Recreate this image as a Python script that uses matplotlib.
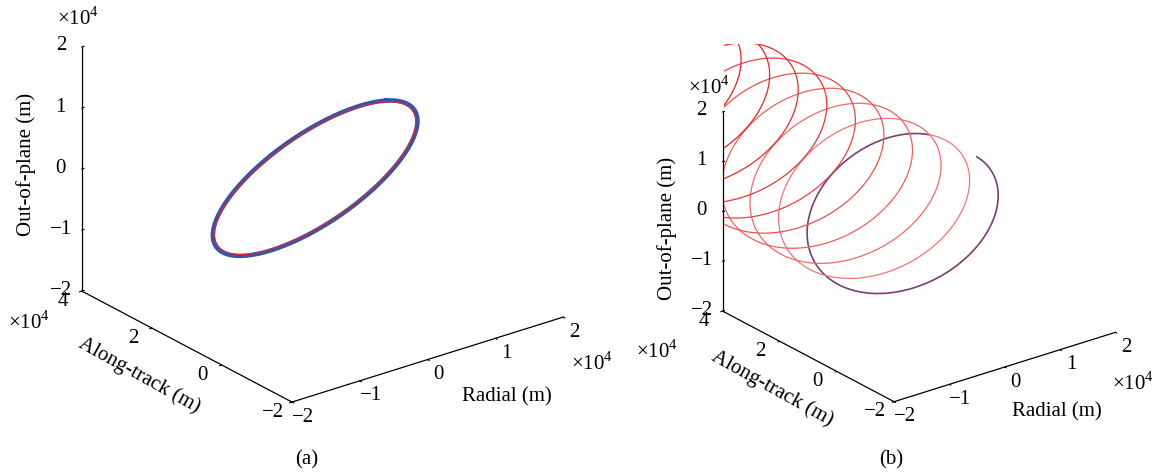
import numpy as np
import matplotlib
matplotlib.use('Agg')
import matplotlib.pyplot as plt
from matplotlib.transforms import Bbox, TransformedBbox, offset_copy

plt.rcParams['font.family'] = ['Liberation Serif', 'DejaVu Serif']
plt.rcParams['font.size'] = 15
plt.rcParams['mathtext.fontset'] = 'custom'
plt.rcParams['mathtext.rm'] = 'Liberation Serif'

# axes limits and ticks (m)
radial_lim = [-2e4, 2e4]
along_lim = [-2e4, 4e4]
out_lim = [-2e4, 2e4]
radial_ticks = [-2e4, -1e4, 0, 1e4, 2e4]
along_ticks = [-2e4, 0, 2e4, 4e4]
out_ticks = [-2e4, -1e4, 0, 1e4, 2e4]

# (a) closed relative orbit: thick blue band + red reference just inside it
a_radial_amp = [1.05e4, 1.032e4]
a_along_center = [1.21e4, 1.21e4]
a_out_amp = [1.15e4, 1.13e4]
a_out_phase = [-38.0, -38.0]          # deg
a_colors = ['#3653a8', '#e3242b']
a_widths = [3.2, 0.8]

# (b) drifting relative orbit, one colour per revolution
b_radial_amp = 1.11e4
b_along_center = 1.2e4
b_along_drift = 1.0e4                 # per revolution
b_out_amp = 0.98e4
b_out_center = -0.09e4
b_out_phase = 1.0                     # deg
b_start = 2.0                         # deg, open end of the purple arc
b_first_end = 345.0                   # deg, purple turns red here
b_loop_colors = ['#7b3d72', '#f27474', '#f16a6a', '#f05e5e', '#ee5050',
                 '#ec4242', '#ea3434', '#e92a2a', '#e82424', '#e81f1f', '#e81c1c']
b_loop_widths = [1.2] + [0.9] * 10


def fmt(v):
    return f'{v / 1e4:g}'.replace('-', '\u2212')


def draw_axes(ax):
    ax.set_proj_type('ortho')
    ax.view_init(elev=24, azim=-127.6)
    ax.set_box_aspect((342, 344, 267))
    ax.set_xlim(radial_lim)
    ax.set_ylim(along_lim)
    ax.set_zlim(out_lim)
    ax.set_xticks(radial_ticks)
    ax.set_yticks(along_ticks)
    ax.set_zticks(out_ticks)
    ax.set_xticklabels([])
    ax.set_yticklabels([])
    ax.set_zticklabels([])
    ax.grid(False)
    for axis in (ax.xaxis, ax.yaxis, ax.zaxis):
        axis.set_pane_color((1, 1, 1, 0))
        axis.pane.set_edgecolor((1, 1, 1, 0))
        axis.line.set_color('black')
        axis.line.set_linewidth(0.9)
        axis._axinfo['tick']['inward_factor'] = 0.1
        axis._axinfo['tick']['outward_factor'] = 0.0
        axis._axinfo['tick']['linewidth'] = {True: 0.8, False: 0.5}
    ax.zaxis._axinfo['tick']['inward_factor'] = 0.0
    ax.zaxis._axinfo['tick']['outward_factor'] = 0.1

    # tick labels in MATLAB positions, shifted a few pixels off the axis lines
    def lab(x, y, z, s, dx, dy):
        tr = offset_copy(ax.transData, fig=fig, x=dx, y=-dy, units='dots')
        ax.text(x, y, z, s, transform=tr, ha='center', va='center')

    for v in radial_ticks:
        lab(v, along_lim[0], out_lim[0], fmt(v), 11, 15)
    for v in along_ticks:
        lab(radial_lim[0], v, out_lim[0], fmt(v), -19, 10)
    for v in out_ticks:
        lab(radial_lim[0], along_lim[1], v, fmt(v), -21, -1)


fig = plt.figure(figsize=(11.61, 4.74), dpi=100)
W, H = 1161, 474


def ftext(x, y, s, **kw):
    fig.text(x / W, 1 - y / H, s, ha='center', va='center', **kw)


# ---- (a)
ax1 = fig.add_axes([0.0398, 0.0331, 0.4634, 1.135], projection='3d')
draw_axes(ax1)
th = np.radians(np.linspace(0, 360, 721))
for A, yc, B, ph, c, lw in zip(a_radial_amp, a_along_center, a_out_amp,
                               a_out_phase, a_colors, a_widths):
    ax1.plot(A * np.cos(th), yc - 2 * A * np.sin(th),
             B * np.cos(th + np.radians(ph)), color=c, lw=lw)

# ---- (b)
ax2 = fig.add_axes([0.5974, 0.0557, 0.3781, 0.9262], projection='3d')
draw_axes(ax2)
clip = TransformedBbox(Bbox([[724 / W, 0], [1, 1 - 44 / H]]), fig.transFigure)
for k, (c, lw) in enumerate(zip(b_loop_colors, b_loop_widths)):
    t0 = b_start if k == 0 else b_first_end + 360 * (k - 1)
    t1 = b_first_end + 360 * k
    t = np.linspace(t0, t1, 400)
    tr = np.radians(t)
    yc = b_along_center + b_along_drift * (t - b_start) / 360
    ln, = ax2.plot(b_radial_amp * np.cos(tr), yc - 2 * b_radial_amp * np.sin(tr),
                   b_out_center + b_out_amp * np.cos(tr + np.radians(b_out_phase)),
                   color=c, lw=lw)
    ln.set_clip_path(None)
    ln.set_clip_box(clip)

# axis titles and exponents
ftext(507, 397, 'Radial (m)')
ftext(139, 375, 'Along-track (m)', rotation=-29)
ftext(26, 164, 'Out-of-plane (m)', rotation=90)
ftext(1057, 412, 'Radial (m)')
ftext(772, 388, 'Along-track (m)', rotation=-29)
ftext(667, 228, 'Out-of-plane (m)', rotation=90)
for x, y in [(78, 18), (29, 322), (592, 364), (709, 87), (657, 352), (1133, 383)]:
    ftext(x, y, r'$\times10^4$')

ftext(307, 460, '(a)')
ftext(891, 460, '(b)')

fig.savefig('out.png', dpi=100)
